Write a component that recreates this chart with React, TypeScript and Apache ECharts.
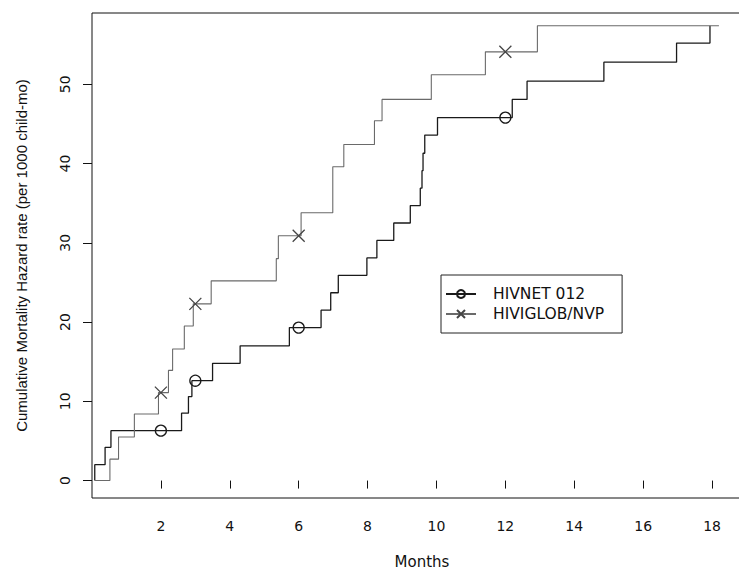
import React, { useEffect, useRef } from 'react';
import * as echarts from 'echarts';

// HIVNET 012: month of each jump and cumulative hazard after the jump
const hivnetMonths = [0.08, 0.08, 0.38, 0.55, 2.6, 2.8, 2.9, 3.5, 4.3, 5.73, 6.65, 6.93, 7.15, 7.98, 8.27, 8.76, 9.24, 9.53, 9.58, 9.61, 9.66, 10.03, 12.2, 12.63, 14.86, 16.97, 17.94];
const hivnetRate = [0, 2.0, 4.2, 6.3, 8.5, 10.6, 12.6, 14.8, 17.0, 19.3, 21.5, 23.7, 25.9, 28.1, 30.3, 32.5, 34.7, 36.9, 39.1, 41.3, 43.6, 45.8, 48.1, 50.4, 52.8, 55.2, 57.4];

// HIVIGLOB/NVP
const hiviglobMonths = [0.08, 0.52, 0.77, 1.23, 1.93, 2.22, 2.34, 2.68, 2.94, 3.46, 5.35, 5.41, 6.07, 6.99, 7.31, 8.2, 8.42, 9.85, 11.42, 12.93, 18.2];
const hiviglobRate = [0, 2.7, 5.5, 8.4, 11.1, 13.9, 16.6, 19.5, 22.3, 25.2, 28.0, 30.9, 33.8, 39.6, 42.4, 45.4, 48.1, 51.2, 54.1, 57.4, 57.4];

// months where the curves carry a marker
const markerMonths = [2, 3, 6, 12];

const xTicks = [2, 4, 6, 8, 10, 12, 14, 16, 18];
const yTicks = [0, 10, 20, 30, 40, 50];

const seriesNames = ['HIVNET 012', 'HIVIGLOB/NVP'];

function valueAt(times: number[], vals: number[], x: number) {
  let v = vals[0];
  for (let i = 0; i < times.length; i++) if (times[i] <= x) v = vals[i];
  return v;
}

function buildData(times: number[], vals: number[]) {
  const pts: { value: number[]; m: boolean }[] = times.map((t, i) => ({ value: [t, vals[i]], m: false }));
  markerMonths.forEach((mx) => {
    const p = { value: [mx, valueAt(times, vals, mx)], m: true };
    let idx = pts.findIndex((q) => q.value[0] > mx);
    if (idx < 0) idx = pts.length;
    pts.splice(idx, 0, p);
  });
  return pts.map((p) => (p.m ? { value: p.value } : { value: p.value, symbol: 'none' }));
}

export default function App() {
  const ref = useRef<HTMLDivElement>(null);
  useEffect(() => {
    const chart = echarts.init(ref.current!, null, { renderer: 'svg' });
    const axisFont = { fontFamily: 'DejaVu Sans', fontSize: 14, color: '#111' };
    chart.setOption({
      animation: false,
      backgroundColor: '#fff',
      grid: {
        left: 92, top: 13, width: 660, bottom: 78, outerBoundsMode: 'none', containLabel: false,
        show: true, borderColor: '#111', borderWidth: 1, backgroundColor: 'transparent',
      },
      xAxis: {
        type: 'value', min: 0, max: 19.16,
        name: 'Months', nameLocation: 'middle', nameGap: 56,
        nameTextStyle: { fontFamily: 'DejaVu Sans', fontSize: 15, color: '#111' },
        axisLine: { show: false },
        axisTick: { show: true, length: 8, customValues: xTicks, lineStyle: { color: '#111' } },
        axisLabel: { ...axisFont, margin: 21, customValues: xTicks },
        splitLine: { show: false },
      },
      yAxis: {
        type: 'value', min: -2.2, max: 59,
        name: 'Cumulative Mortality Hazard rate (per 1000 child-mo)', nameLocation: 'middle', nameGap: 63, nameRotate: 90,
        nameTextStyle: { fontFamily: 'Liberation Sans', fontSize: 15, color: '#111' },
        axisLine: { show: false },
        axisTick: { show: true, length: 9, customValues: yTicks, lineStyle: { color: '#111' } },
        axisLabel: { ...axisFont, rotate: 90, margin: 20, customValues: yTicks },
        splitLine: { show: false },
      },
      legend: {
        orient: 'vertical', left: 441, top: 275,
        itemWidth: 30, itemHeight: 10, itemGap: 4,
        padding: [11, 18, 11, 4],
        borderColor: '#222', borderWidth: 1,
        textStyle: { fontFamily: 'DejaVu Sans', fontSize: 15.5, color: '#111', padding: [0, 0, 0, 12] },
        data: seriesNames,
      },
      series: [
        {
          name: seriesNames[0], type: 'line', step: 'end',
          data: buildData(hivnetMonths, hivnetRate),
          symbol: 'circle', symbolSize: 11, showSymbol: true, showAllSymbol: true,
          lineStyle: { color: '#1a1a1a', width: 1.3 },
          itemStyle: { color: 'none', borderColor: '#1a1a1a', borderWidth: 1.3 },
          emphasis: { disabled: true },
        },
        {
          name: seriesNames[1], type: 'line', step: 'end',
          data: buildData(hiviglobMonths, hiviglobRate),
          symbol: 'path://M0,0L10,10M10,0L0,10', symbolSize: 12, showSymbol: true, showAllSymbol: true,
          lineStyle: { color: '#6a6a6a', width: 1.1 },
          itemStyle: { color: 'none', borderColor: '#444', borderWidth: 1.3 },
          emphasis: { disabled: true },
        },
      ],
    });
    return () => chart.dispose();
  }, []);
  return <div ref={ref} style={{ position: 'fixed', left: 0, top: 0, width: 739, height: 576, background: '#fff' }} />;
}
